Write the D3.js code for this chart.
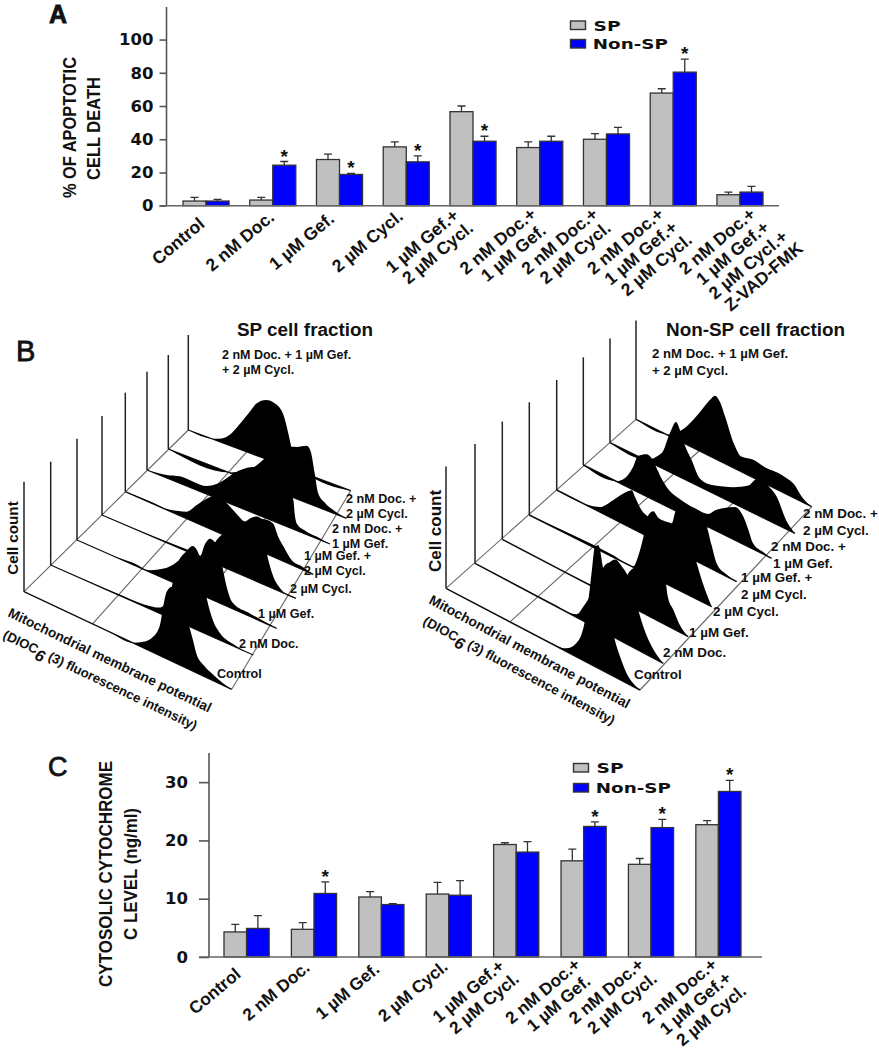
<!DOCTYPE html>
<html>
<head>
<meta charset="utf-8">
<script src="https://cdn.jsdelivr.net/npm/d3@7"></script>
<style>
  body { margin: 0; background: #fff; }
  text { font-family: "Liberation Sans", Arial, sans-serif; fill: #111; }
  .wide { font-family: "DejaVu Sans", sans-serif; font-weight: bold; }
</style>
</head>
<body>
<svg id="fig" width="879" height="1050"></svg>
<script>
/* Panel A */
var categoriesA = ["Control", "2 nM Doc.", "1 µM Gef.", "2 µM Cycl.", "1 µM Gef.+|2 µM Cycl.", "2 nM Doc.+|1 µM Gef.",
  "2 nM Doc.+|2 µM Cycl.", "2 nM Doc.+|1 µM Gef.+|2 µM Cycl.", "2 nM Doc.+|1 µM Gef.+|2 µM Cycl.+|Z-VAD-FMK"];
var spA = [2.8, 3.4, 27.8, 35.4, 56.6, 35, 40, 67.8, 6.6];
var spErrA = [2.2, 1.6, 3.2, 3, 3.4, 3.4, 3.4, 2.6, 1.6];
var nonSpA = [2.8, 24.4, 18.8, 26.4, 38.8, 38.8, 43.2, 80.4, 8.2];
var nonSpErrA = [1, 2.2, 0.6, 3.6, 3, 3, 4, 7.8, 3.4];
var starsA = [1, 2, 3, 4, 7];
var ticksA = [0, 20, 40, 60, 80, 100];

/* Panel C */
var categoriesC = ["Control", "2 nM Doc.", "1 µM Gef.", "2 µM Cycl.", "1 µM Gef.+|2 µM Cycl.", "2 nM Doc.+|1 µM Gef.",
  "2 nM Doc.+|2 µM Cycl.", "2 nM Doc.+|1 µM Gef.+|2 µM Cycl."];
var spC = [4.3, 4.75, 10.3, 10.8, 19.3, 16.5, 15.9, 22.7];
var spErrC = [1.3, 1.15, 0.9, 2, 0.3, 2, 1, 0.7];
var nonSpC = [4.9, 10.9, 9, 10.6, 18, 22.4, 22.2, 28.4];
var nonSpErrC = [2.2, 2, 0.15, 2.5, 1.8, 0.8, 1.4, 1.9];
var starsC = [1, 5, 6, 7];
var ticksC = [0, 10, 20, 30];

/* Panel B: histograms as [fluorescence %, cell count], front to back */
var spControl = [[40,0],[52.6,.3],[57.5,6],[62.3,16],[65.5,31],[67,50],[68.7,67],[71,74],[73.5,76],[76,66],[78.3,51],[80,40],[81.5,30],[83,19],[86.4,11],[91,6],[96,2]];
var spDoc = [[32.6,1],[45.7,2],[54,6],[59,25],[62,54],[67,74],[70,82],[73,77],[75,56],[77,36],[80,17],[83.6,7],[90,2]];
var spGef = [[20,.5],[28,2],[36.5,2],[45,12],[51.6,26],[56.6,40],[58.5,43],[61.6,38],[64,52],[66.6,60],[69,59],[71,55],[73,36],[75,19],[78,6],[86.6,3]];
var spCycl = [[43.6,2],[54,3],[59,24],[64.3,37],[71,49],[78,58],[82.3,59],[85,32],[88.3,12],[92,3]];
var spGefCycl = [[13,1.3],[23.8,1.5],[32.6,7],[38,18],[42.4,27],[46.8,34],[50.4,35],[54,33],[59,27],[63.8,23],[66.3,28],[69.9,33],[73,33],[75,34],[78.7,33],[81.4,22],[84,15],[89,4],[93.8,3]];
var spDocGef = [[10.7,3],[18,7],[25,7],[32.6,8],[38,14],[43.5,24],[47,31],[52.6,40],[58,46],[65,45],[72.7,40],[78,35],[80,29],[80.7,16],[81.8,7],[87,3],[92.7,2]];
var spDocCycl = [[34.6,.5],[36.4,2],[44,9],[49.5,18],[54,28],[60.7,39],[69,50],[72,52],[77.6,57],[79.8,53],[82,33],[84,14],[87.9,7],[92.5,3]];
var spTriple = [[15.4,.7],[20.5,4],[25.7,11],[30.8,23],[37,39],[42,52],[47.8,59],[53.4,59],[58.5,51],[61.6,34],[63.7,20],[66.7,7],[71.9,2]];

var nsControl = [[40,0],[52,.3],[62,3],[67,13],[71,34],[73.4,63],[75,91],[76.8,120],[78.5,123],[80.8,104],[82.8,76],[84.5,58],[87,37],[89.7,23],[93,10],[96.6,3]];
var nsDoc = [[20,.5],[41.6,1],[54,3],[57.5,14],[61,28],[65.5,52],[69,67],[71.7,73],[74.3,78],[77.9,75],[81.4,68],[84,57],[86.7,40],[89.4,26],[93,13]];
var nsGef = [[40,.5],[56,2],[63,4],[66.8,28],[74,48],[81,65],[85.7,62],[87.5,48],[89,29],[92,19],[95.5,7]];
var nsCycl = [[46,2],[57,1],[59.6,13],[62.4,34],[65.1,59],[68,66],[70.7,62],[78,63],[84.4,62],[89,53],[91.8,36],[94.5,22],[97,11]];
var nsGefCycl = [[16.7,.7],[24,5],[31.5,19],[38.9,34],[41.7,38],[43.5,33],[47.2,23],[50.9,20],[57.4,21],[63.9,25],[66.3,40],[72,43],[79.6,45],[83.3,40],[86,24],[88.9,8],[94.4,2]];
var nsDocGef = [[17.7,.3],[21,5],[26.5,23],[29,36],[33.6,42],[36,41],[39,33],[41.6,25],[44.4,19],[50.4,14],[59.3,12],[66.4,13],[70,20],[75,27],[80.5,33],[84.8,28],[87.6,17],[90,6],[95.6,2]];
var nsDocCycl = [[19.8,1],[28,15],[32.4,39],[35.7,53],[37.8,47],[40.5,34],[44,23],[48.6,8],[55.9,8],[66.7,16],[74.8,25],[78.4,34],[82,42],[84.7,36],[90,28],[95.5,8]];
var nsTriple = [[18.4,1],[28.8,18],[36.4,39],[42,56],[45,63],[47.8,59],[50.7,47],[55.8,24],[59.8,15],[66.8,18],[74.4,16],[81,17],[85.8,16],[89.6,14],[95,4]];

var spSeries = [spControl, spDoc, spGef, spCycl, spGefCycl, spDocGef, spDocCycl, spTriple];
var nsSeries = [nsControl, nsDoc, nsGef, nsCycl, nsGefCycl, nsDocGef, nsDocCycl, nsTriple];

var svg = d3.select("#fig");
var gray = "#c0c0c0", blue = "#0000ff", ink = "#333";

function txt(x, y, s, size, weight, rot) {
  var t = svg.append("text").attr("font-size", size).attr("font-weight", weight || "bold").text(s);
  if (rot === undefined) t.attr("x", x).attr("y", y);
  else t.attr("transform", "translate(" + x + "," + y + ") rotate(" + rot + ")");
  return t;
}

/* grouped bars, used for A and C */
function barChart(o) {
  var g = svg.append("g");
  var x = d3.scaleBand().domain(d3.range(o.cats.length)).range(o.xRange).paddingInner(o.pad);
  var y = d3.scaleLinear().domain(o.yDomain).range(o.yRange);
  var bw = x.bandwidth() / 2;

  var axis = d3.axisLeft(y).tickValues(o.ticks).tickSize(o.tickLen).tickPadding(o.tickPad);
  var ax = g.append("g").attr("transform", "translate(" + o.axisX + ",0)").call(axis);
  ax.select(".domain").attr("stroke", "#555").attr("stroke-width", 1.6).attr("d", "M0," + y(0) + "V" + y.range()[1]);
  ax.selectAll(".tick line").attr("stroke", "#555").attr("stroke-width", 1.6);
  ax.selectAll(".tick text").attr("class", "wide").attr("font-size", o.tickFont).attr("fill", "#111").style("font-family", '"DejaVu Sans"');

  function series(vals, errs, color, off) {
    var s = g.append("g");
    s.selectAll(".err").data(vals).enter().append("path")
      .attr("fill", "none").attr("stroke", ink).attr("stroke-width", 1.3)
      .attr("d", function(d, i) {
        var c = x(i) + off + bw / 2, t = y(d + errs[i]);
        return "M" + c + "," + y(d) + "V" + t + "M" + (c - 4) + "," + t + "H" + (c + 4);
      });
    s.selectAll("rect").data(vals).enter().append("rect")
      .attr("x", function(d, i) { return x(i) + off; })
      .attr("y", function(d) { return y(d); })
      .attr("width", bw)
      .attr("height", function(d) { return y(0) - y(d); })
      .attr("fill", color).attr("stroke", ink).attr("stroke-width", 1.3);
  }
  series(o.sp, o.spErr, gray, 0);
  series(o.nonSp, o.nonSpErr, blue, bw);

  g.append("path").attr("stroke", "#666").attr("stroke-width", 1.6)
    .attr("d", "M" + (o.axisX - o.tickLen) + "," + y(0) + "H" + o.xEnd);

  o.stars.forEach(function(i) {
    txt(x(i) + bw * 1.5, y(o.nonSp[i] + o.nonSpErr[i]) + 1, "*", 19).attr("text-anchor", "middle").attr("fill", "#111");
  });

  /* rotated category labels */
  o.cats.forEach(function(c, i) {
    var cx = x(i) + bw + o.labelShift[i];
    c.split("|").forEach(function(line, k) {
      var a = -40 * Math.PI / 180;
      var lx = cx + (k * 4.3) * Math.cos(a) - (k * o.lineH) * Math.sin(a);
      var ly = o.labelY + (k * 4.3) * Math.sin(a) + (k * o.lineH) * Math.cos(a);
      txt(lx, ly, line, o.labelFont, "bold", -40).attr("text-anchor", "middle").attr("dy", "0.35em");
    });
  });

  /* legend */
  [["SP", gray, o.leg[1]], ["Non-SP", blue, o.leg[2]]].forEach(function(e, i) {
    g.append("rect").attr("x", o.leg[0]).attr("y", e[2]).attr("width", 15).attr("height", 8.5)
      .attr("fill", e[1]).attr("stroke", ink).attr("stroke-width", 1.4);
    svg.append("text").attr("class", "wide").attr("x", o.leg[0] + 23 - (i ? 0.7 : 0)).attr("y", e[2] + 9.7)
      .attr("font-size", 14).attr("textLength", i ? 75 : 27).attr("lengthAdjust", "spacingAndGlyphs").style("font-family", '"DejaVu Sans"').text(e[0]);
  });
}

barChart({
  cats: categoriesA, sp: spA, spErr: spErrA, nonSp: nonSpA, nonSpErr: nonSpErrA, stars: starsA, ticks: ticksA,
  xRange: [183, 763], pad: 0.31, yDomain: [0, 119.6], yRange: [205.7, 7], axisX: 166.5, tickLen: 7, tickPad: 6, xEnd: 779,
  tickFont: 16.5, labelFont: 17.5, lineH: 19, labelY: 241, labelShift: [-28, -33, -38, -39, -51, -42, -47, -48, -23], leg: [570.5, 21, 39.5]
});
barChart({
  cats: categoriesC, sp: spC, spErr: spErrC, nonSp: nonSpC, nonSpErr: nonSpErrC, stars: starsC, ticks: ticksC,
  xRange: [224, 741], pad: 0.33, yDomain: [0, 35], yRange: [957, 753], axisX: 209, tickLen: 10, tickPad: 11, xEnd: 762,
  tickFont: 16.5, labelFont: 17.2, lineH: 19.5, labelY: 991, labelShift: [-32, -38, -34, -36, -48, -41, -45, -39], leg: [573.5, 763.5, 783.5]
});

/* waterfall histograms, panel B */
function waterfall(o, data) {
  var g = svg.append("g");
  var idx = d3.range(8);
  var bx = d3.scaleLinear().domain(idx).range(o.baseX), by = d3.scaleLinear().domain(idx).range(o.baseY);
  var ex = d3.scaleLinear().domain(idx).range(o.endX), ey = d3.scaleLinear().domain(idx).range(o.endY);
  var wall = d3.scaleLinear().domain(idx).range(o.wallH);
  var count = d3.scaleLinear().domain([0, 100]).range([0, -100]);

  function px(i, f) { return d3.scaleLinear().domain([0, 100]).range([bx(i), ex(i)])(f); }
  function py(i, f) { return d3.scaleLinear().domain([0, 100]).range([by(i), ey(i)])(f); }
  function seg(a, fa, b, fb) { return "M" + px(a, fa) + "," + py(a, fa) + "L" + px(b, fb) + "," + py(b, fb); }

  var floor = g.append("g").attr("stroke", "#666").attr("stroke-width", 1.1).attr("fill", "none");
  floor.append("path").attr("d", seg(0, 0, 7, 0));
  floor.append("path").attr("d", seg(0, 33, 7, 36));
  floor.append("path").attr("d", seg(0, 66, 7, 69));
  floor.append("path").attr("d", seg(0, 100, 7, 100));

  var line = d3.line().x(function(d) { return d[0]; }).y(function(d) { return d[1]; }).curve(d3.curveMonotoneX);
  idx.slice().reverse().forEach(function(i) {
    g.append("path").attr("stroke", "#222").attr("stroke-width", 1.5)
      .attr("d", "M" + bx(i) + "," + by(i) + "v" + (-wall(i)));
    g.append("path").attr("stroke", "#111").attr("stroke-width", o.baseW).attr("d", seg(i, 0, i, 100));
    var pts = [[0, 0]].concat(data[i], [[100, 0]]).map(function(d) {
      return [px(i, d[0]), py(i, d[0]) + count(d[1])];
    });
    g.append("path").attr("d", line(pts) + "Z").attr("fill", "#000");
  });
}

waterfall({
  baseW: 1.3,
  baseX: [24, 50.7, 77, 102, 125.3, 147, 168.3, 188.3], baseY: [591.7, 565, 540, 515, 491.7, 470, 449, 430],
  endX: [231.7, 253.3, 276.7, 296, 313.3, 330, 346.7, 350.7], endY: [689.3, 655, 628.3, 598.3, 574.3, 544, 518.3, 490.7],
  wallH: [110, 103.3, 101.3, 99, 99, 98.3, 94, 95]
}, spSeries);
waterfall({
  baseW: 1.5,
  baseX: [446, 475, 502.3, 529.3, 556.7, 583.3, 610, 636], baseY: [588.3, 563.3, 539.3, 515, 490, 465, 442.7, 419.3],
  endX: [640, 663.3, 688.3, 711.7, 736.7, 771.7, 795, 811.7], endY: [690, 663.3, 636.7, 606.7, 581.7, 558.3, 533.3, 506.7],
  wallH: [121.7, 119.3, 117.7, 112.7, 110, 107.7, 104.3, 98.7]
}, nsSeries);

/* panel letters */
txt(49, 23, "A", 25, "bold").style("stroke", "#111").style("stroke-width", 0.8);
txt(16, 361, "B", 29, "normal").style("stroke", "#111").style("stroke-width", 0.8);
txt(48, 776, "C", 27, "normal").style("stroke", "#111").style("stroke-width", 0.8);

/* axis titles */
function title(x, y, s, len, size) {
  txt(x, y, s, size, "bold", -90).attr("text-anchor", "middle").attr("textLength", len).attr("lengthAdjust", "spacingAndGlyphs");
}
title(76, 127.5, "% OF APOPTOTIC", 141, 18.5);
title(100, 128.5, "CELL DEATH", 103, 18.5);
title(112, 874, "CYTOSOLIC CYTOCHROME", 226, 18.5);
title(137, 874, "C LEVEL (ng/ml)", 132, 18.5);

/* panel B text */
txt(237, 336, "SP cell fraction", 18.9);
txt(666, 336, "Non-SP cell fraction", 18.9);
txt(222, 359, "2 nM Doc. + 1 µM Gef.", 12.5);
txt(222, 374, "+ 2 µM Cycl.", 12.5);
txt(652, 358, "2 nM Doc. + 1 µM Gef.", 13.2);
txt(652, 375, "+ 2 µM Cycl.", 13.2);

var spLabels = [[346, 503, "2 nM Doc. +"], [346, 518, "2 µM Cycl."], [332, 533, "2 nM Doc. +"], [332, 548, "1 µM Gef."],
  [304, 560, "1 µM Gef. +"], [304, 575, "2 µM Cycl."], [290, 593, "2 µM Cycl."], [258, 618, "1 µM Gef."], [239, 648, "2 nM Doc."], [217, 678, "Control"]];
var nsLabels = [[803, 518, "2 nM Doc. +"], [803, 535, "2 µM Cycl."], [771, 551, "2 nM Doc. +"], [773, 568, "1 µM Gef."],
  [741, 582, "1 µM Gef. +"], [741, 599, "2 µM Cycl."], [713, 616, "2 µM Cycl."], [689, 637, "1 µM Gef."], [663, 657, "2 nM Doc."], [634, 679, "Control"]];
spLabels.forEach(function(d) { txt(d[0], d[1], d[2], 12.6); });
nsLabels.forEach(function(d) { txt(d[0], d[1], d[2], 13.4); });

txt(17.5, 538, "Cell count", 15.2, "bold", -90).attr("text-anchor", "middle");
txt(441, 531, "Cell count", 17, "bold", -90).attr("text-anchor", "middle");

function mito(x1, y1, x2, y2, rot, size) {
  txt(x1, y1, "Mitochondrial membrane potential", size, "bold", rot);
  var t = txt(x2, y2, "(DIOC", size - 0.5, "bold", rot);
  t.append("tspan").attr("dy", 5).attr("font-size", size + 2.5).attr("font-style", "italic").text("6");
  t.append("tspan").attr("dy", -5).text(" (3) fluorescence intensity)");
}
mito(7, 616, 2, 638, 25.6, 13.7);
mito(428, 603, 422, 624, 28, 13.8);
</script>
</body>
</html>
